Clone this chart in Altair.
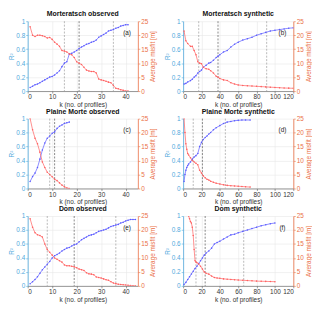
import altair as alt
import pandas as pd

FONT = "Liberation Sans"
BLUE = "#5b5bff"
RED = "#ff5f5f"
LBLUE = "#4fa8dc"
ORANGE = "#ea6f45"

# ---------------- data ----------------
titles = ["Morteratsch observed", "Morteratsch synthetic",
          "Plaine Morte observed", "Plaine Morte synthetic",
          "Dom observed", "Dom synthetic"]
labels = ["(a)", "(b)", "(c)", "(d)", "(e)", "(f)"]
xmax = [45, 120, 45, 120, 45, 120]
xticks_obs = [0, 10, 20, 30, 40]
xticks_syn = [0, 20, 40, 60, 80, 100, 120]

# (a)
k_a = list(range(1, 42))
blue_a = [0.05, 0.07, 0.09, 0.10, 0.12, 0.14, 0.16, 0.18, 0.20, 0.21, 0.23, 0.26, 0.29, 0.35,
          0.40, 0.42, 0.53, 0.54, 0.56, 0.58, 0.61, 0.63, 0.65, 0.67, 0.68, 0.70, 0.71, 0.73,
          0.77, 0.79, 0.81, 0.83, 0.86, 0.87, 0.88, 0.90, 0.91, 0.93, 0.94, 0.95, 0.95]
red_a = [23, 20, 19.5, 20, 20, 19.8, 19.5, 19, 19.2, 18.5, 17.5, 16.8, 16, 14.5, 14.3, 14,
         13.3, 13, 12, 10.5, 10, 9.5, 8.5, 7.5, 7.2, 7, 7, 6.5, 4.3, 4, 3.8, 3.5, 3.2, 3, 2,
         1, 0.8, 0.5, 0.3, 0, 0]
vl_a = [15, 21, 35]

# (b)
k_b = [1, 3, 5, 8, 10, 12, 14, 16, 18, 20, 22, 25, 28, 30, 33, 36, 38, 40, 44, 48, 52, 56,
       60, 65, 70, 75, 80, 85, 90, 95, 100, 105, 110, 115, 120]
blue_b = [0.10, 0.11, 0.13, 0.15, 0.17, 0.20, 0.22, 0.26, 0.28, 0.30, 0.34, 0.37, 0.40, 0.41,
          0.44, 0.48, 0.50, 0.52, 0.56, 0.58, 0.63, 0.67, 0.70, 0.73, 0.75, 0.77, 0.80, 0.82,
          0.84, 0.86, 0.87, 0.88, 0.89, 0.90, 0.905]
red_b = [21.5, 18, 17, 16, 16, 14.5, 13, 10.5, 10, 9.8, 8.5, 8, 7.8, 7.3, 6.5, 5.3, 5, 4.5,
         4, 3.8, 3, 2.5, 2.2, 2, 1.9, 1.8, 1.7, 1.6, 1.5, 1.4, 1.3, 1.2, 1.1, 1.05, 1.0]
vl_b = [17, 38, 91]

# (c)
k_c = list(range(1, 18))
blue_c = [0.10, 0.17, 0.22, 0.30, 0.42, 0.55, 0.65, 0.72, 0.75, 0.79, 0.81, 0.86, 0.89,
          0.91, 0.93, 0.94, 0.95]
red_c = [25, 21, 18, 16, 13, 9.5, 7.5, 5.8, 5, 4.2, 3.3, 2.8, 2, 1.2, 0.6, 0.2, 0]
vl_c = [9, 11, 15]

# (d)
k_d = [1, 2, 3, 4, 5, 6, 8, 10, 12, 14, 16, 18, 20, 22, 24, 26, 28, 30, 33, 36, 40, 44, 48,
       52, 56, 60, 64, 68, 73]
blue_d = [0.10, 0.20, 0.26, 0.30, 0.33, 0.35, 0.38, 0.42, 0.45, 0.47, 0.50, 0.60, 0.66, 0.70,
          0.73, 0.75, 0.78, 0.80, 0.84, 0.87, 0.90, 0.93, 0.95, 0.96, 0.97, 0.975, 0.98, 0.98,
          0.98]
red_d = [25, 20, 16, 14, 12.5, 12, 11, 10, 9.5, 9, 8.5, 6.5, 5.5, 4.5, 3.8, 3.3, 3, 2.6, 2.2,
         1.9, 1.6, 1.3, 1.1, 1.0, 0.9, 0.8, 0.7, 0.6, 0.5]
vl_d = [11, 21, 46]

# (e)
k_e = list(range(1, 45))
blue_e = [0.03, 0.06, 0.09, 0.13, 0.18, 0.23, 0.27, 0.31, 0.35, 0.40, 0.43, 0.45, 0.47, 0.50,
          0.52, 0.54, 0.55, 0.57, 0.59, 0.60, 0.63, 0.66, 0.68, 0.70, 0.72, 0.73, 0.74, 0.76,
          0.78, 0.79, 0.80, 0.81, 0.83, 0.85, 0.86, 0.87, 0.88, 0.90, 0.91, 0.93, 0.94, 0.95,
          0.95, 0.95]
red_e = [24, 21, 19, 18.3, 18, 17.5, 15, 13, 12, 11, 10, 9.5, 9, 8.5, 7.5, 7.2, 7.2, 7, 6.8,
         6.5, 6, 5.8, 5.5, 4.7, 4.3, 4.2, 4, 3.2, 3, 2.8, 2.5, 2.2, 2, 1.5, 1, 0.8, 0.6, 0.5,
         0.4, 0.3, 0.2, 0.1, 0.05, 0]
vl_e = [8, 19, 36]

# (f)
k_f = [1, 3, 5, 7, 9, 11, 13, 15, 17, 19, 21, 23, 25, 28, 31, 34, 37, 40, 44, 48, 52, 56, 60,
       65, 70, 75, 80, 85, 90, 95, 100]
blue_f = [0.02, 0.05, 0.09, 0.13, 0.17, 0.21, 0.25, 0.28, 0.32, 0.36, 0.40, 0.44, 0.47, 0.50,
          0.54, 0.60, 0.62, 0.64, 0.67, 0.70, 0.73, 0.74, 0.76, 0.78, 0.80, 0.82, 0.84, 0.86,
          0.875, 0.89, 0.90]
k_f_red = [6, 7, 8, 9, 10, 11, 12, 13, 14, 15, 17, 19, 21, 23, 25, 28, 31, 34, 37, 40, 44, 48,
           52, 56, 60, 65, 70, 75, 80, 85, 90, 95, 100]
red_f = [25, 24, 23, 22.5, 21, 18, 13, 9, 8.5, 8.3, 7.8, 7, 6, 5, 4.5, 4.2, 3.5, 3, 2.8, 2.7,
         2.5, 2.4, 2.3, 2.2, 2.1, 2.0, 1.9, 1.8, 1.7, 1.65, 1.6, 1.55, 1.5]
vl_f = [14, 24, 66]

W, H = 112, 71
FS = 6.5


def panel(i, kb, blue, kr, red, vl):
    xt = xticks_obs if xmax[i] == 45 else xticks_syn
    xscale = alt.Scale(domain=[0, xmax[i]], nice=False, zero=False)
    xaxis = alt.Axis(values=xt, title="k (no. of profiles)", grid=True, gridColor="#e8e8e8",
                     gridWidth=0.6, domainColor="#555555", tickColor="#555555",
                     labelColor="#333333", titleColor="#333333", labelFontSize=FS,
                     titleFontSize=FS, labelFont=FONT, titleFont=FONT, titleFontWeight="normal",
                     tickSize=2, labelPadding=1, titlePadding=1, domainWidth=0.6, tickWidth=0.6)
    xenc = alt.X("k:Q", scale=xscale, axis=xaxis)

    vdf = pd.DataFrame({"k": vl, "c": ["#9a9a9a", "#555555", "#9a9a9a"]})
    rules = alt.Chart(vdf).mark_rule(strokeDash=[2, 1.5], strokeWidth=0.7).encode(
        x=xenc, color=alt.Color("c:N", scale=None))

    bdf = pd.DataFrame({"k": kb, "v": blue})
    left = alt.Chart(bdf).mark_line(
        color=BLUE, strokeWidth=0.7, clip=True,
        point=alt.OverlayMarkDef(color=BLUE, size=2.5, filled=True)).encode(
        x=xenc,
        y=alt.Y("v:Q", scale=alt.Scale(domain=[0, 1], nice=False),
                axis=alt.Axis(orient="left", values=[0, 0.2, 0.4, 0.6, 0.8, 1],
                              labelExpr="datum.value == 0 || datum.value == 1 ? format(datum.value, 'd') : format(datum.value, '.1f')",
                              title="R²", grid=True, gridColor="#e8e8e8", gridWidth=0.6,
                              domainColor=LBLUE, tickColor=LBLUE, labelColor=LBLUE,
                              titleColor=LBLUE, labelFontSize=FS, titleFontSize=FS,
                              labelFont=FONT, titleFont=FONT, titleFontWeight="normal",
                              tickSize=2, labelPadding=1, titlePadding=1, domainWidth=0.8,
                              tickWidth=0.6)))

    rdf = pd.DataFrame({"k": kr, "m": red})
    right = alt.Chart(rdf).mark_line(
        color=RED, strokeWidth=0.7, clip=True,
        point=alt.OverlayMarkDef(color=RED, size=2.5, filled=True)).encode(
        x=xenc,
        y=alt.Y("m:Q", scale=alt.Scale(domain=[0, 25], nice=False),
                axis=alt.Axis(orient="right", values=[0, 5, 10, 15, 20, 25],
                              title="Average misfit [m]", grid=False,
                              domainColor=ORANGE, tickColor=ORANGE, labelColor=ORANGE,
                              titleColor=ORANGE, labelFontSize=FS, titleFontSize=FS,
                              labelFont=FONT, titleFont=FONT, titleFontWeight="normal",
                              tickSize=2, labelPadding=1, titlePadding=2, titleAngle=270,
                              titleBaseline="top", titleAlign="center",
                              domainWidth=0.8, tickWidth=0.6)))

    txt = alt.Chart(pd.DataFrame({"t": [labels[i]]})).mark_text(
        font=FONT, fontSize=FS, color="#222222", align="center").encode(
        x=alt.value(W - 11), y=alt.value(12), text="t:N")

    return alt.layer(rules, left, right, txt).resolve_scale(y="independent").properties(
        width=W, height=H,
        title=alt.TitleParams(titles[i], font=FONT, fontSize=7, fontWeight="bold",
                              color="#111111", offset=1, anchor="middle"))


panels = [
    panel(0, k_a, blue_a, k_a, red_a, vl_a),
    panel(1, k_b, blue_b, k_b, red_b, vl_b),
    panel(2, k_c, blue_c, k_c, red_c, vl_c),
    panel(3, k_d, blue_d, k_d, red_d, vl_d),
    panel(4, k_e, blue_e, k_e, red_e, vl_e),
    panel(5, k_f, blue_f, k_f_red, red_f, vl_f),
]

chart = alt.concat(*panels, columns=2, spacing={"row": 28, "column": 46}, bounds="flush").properties(
    padding={"left": 0, "top": 0, "right": 0, "bottom": 0},
    background="white",
).configure_view(stroke=None)

chart.save("out.html", embed_options={"renderer": "svg", "actions": False})
